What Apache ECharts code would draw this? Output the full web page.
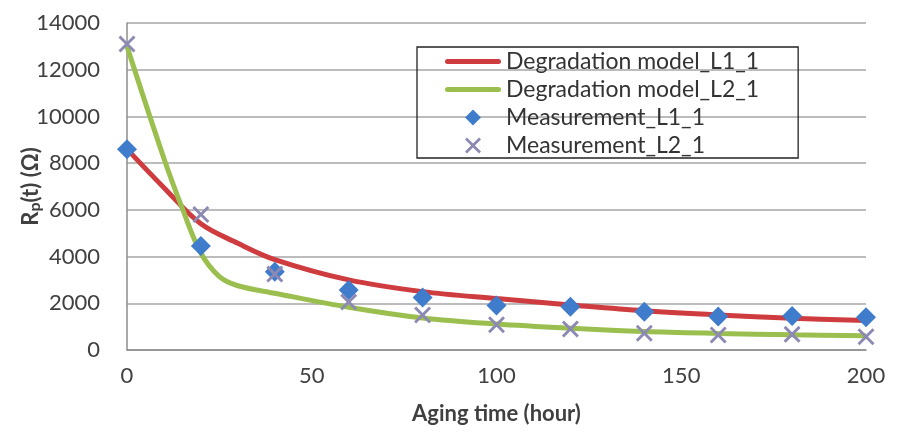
<!DOCTYPE html>
<html>
<head>
<meta charset="utf-8">
<script src="https://cdn.jsdelivr.net/npm/echarts@6/dist/echarts.min.js"></script>
<style>html,body{margin:0;padding:0;background:#fff;}#c{width:901px;height:436px;}</style>
</head>
<body>
<div id="c"></div>
<script>
// Data
const seriesNames = ['Degradation model_L1_1', 'Degradation model_L2_1', 'Measurement_L1_1', 'Measurement_L2_1'];
const modelL1Time = [0, 10, 20, 30, 40, 60, 80, 100, 120, 140, 160, 180, 200];
const modelL1Value = [8600, 6950, 5400, 4570, 3870, 3000, 2500, 2200, 1930, 1680, 1500, 1360, 1260];
const modelL2Time = [0, 10, 15, 20, 25, 30, 40, 60, 80, 100, 120, 140, 160, 180, 200];
const modelL2Value = [13000, 8200, 6050, 4150, 3140, 2750, 2430, 1830, 1370, 1110, 930, 790, 710, 650, 610];
const measTime = [0, 20, 40, 60, 80, 100, 120, 140, 160, 180, 200];
const measL1Value = [8600, 4450, 3350, 2570, 2250, 1900, 1850, 1640, 1430, 1460, 1400];
const measL2Value = [13100, 5800, 3250, 2050, 1500, 1080, 900, 720, 640, 670, 570];
const xTicks = { min: 0, max: 200, interval: 50 };
const yTicks = { min: 0, max: 14000, interval: 2000 };

const pair = (xs, ys) => xs.map((x, i) => [x, ys[i]]);
const FONT = 'Lato';
const crossPath = 'path://M0,1.2 L1.2,0 L5,3.8 L8.8,0 L10,1.2 L6.2,5 L10,8.8 L8.8,10 L5,6.2 L1.2,10 L0,8.8 L3.8,5 Z';
const diamondPath = 'path://M5,0 L10,5 L5,10 L0,5 Z';
const barPath = 'path://M2.5,0 L53.5,0 A2.5,2.5 0 0 1 53.5,5 L2.5,5 A2.5,2.5 0 0 1 2.5,0 Z';

const chart = echarts.init(document.getElementById('c'), null, { renderer: 'canvas' });
chart.setOption({
  animation: false,
  backgroundColor: '#fff',
  textStyle: { fontFamily: FONT },
  grid: { left: 127, right: 35, top: 23, bottom: 86, containLabel: false, outerBoundsMode: 'none' },
  legend: {
    orient: 'vertical',
    left: 417, top: 47,
    padding: [3, 39, 1, 28],
    itemGap: 5,
    itemWidth: 56, itemHeight: 16,
    borderColor: '#222', borderWidth: 1.3,
    textStyle: { fontFamily: FONT, fontSize: 23, color: '#333' },
    data: [
      { name: seriesNames[0], icon: barPath, itemStyle: { color: '#cf3c3f' } },
      { name: seriesNames[1], icon: barPath, itemStyle: { color: '#9bbf4e' } },
      { name: seriesNames[2], icon: diamondPath, itemStyle: { color: '#3f7dcc' } },
      { name: seriesNames[3], icon: crossPath, itemStyle: { color: '#8c89b3' } }
    ]
  },
  xAxis: {
    type: 'value', min: xTicks.min, max: xTicks.max, interval: xTicks.interval,
    name: 'Aging time (hour)', nameLocation: 'middle', nameGap: 53, nameMoveOverlap: false,
    nameTextStyle: { fontFamily: FONT, fontSize: 22, fontWeight: 'bold', color: '#404040' },
    axisLine: { show: true, lineStyle: { color: '#8c8c8c', width: 1.5 } },
    axisTick: { show: false },
    splitLine: { show: false },
    axisLabel: { fontFamily: FONT, fontSize: 22, color: '#404040', margin: 15 }
  },
  yAxis: {
    type: 'value', min: yTicks.min, max: yTicks.max, interval: yTicks.interval,
    name: '{a|R}{b|p}{a|(t) (Ω)}', nameLocation: 'middle', nameGap: 84, nameMoveOverlap: false,
    nameTextStyle: {
      color: '#404040',
      rich: {
        a: { fontFamily: FONT, fontSize: 22, fontWeight: 'bold', color: '#404040' },
        b: { fontFamily: FONT, fontSize: 16, fontWeight: 'bold', color: '#404040', padding: [8, 0, 0, 0] }
      }
    },
    axisLine: { show: true, lineStyle: { color: '#8c8c8c', width: 1.5 } },
    axisTick: { show: false },
    splitLine: { show: true, lineStyle: { color: '#a6a6a6', width: 1.5 } },
    axisLabel: { fontFamily: FONT, fontSize: 22, color: '#404040', margin: 27, formatter: (v) => String(v) }
  },
  series: [
    {
      name: seriesNames[0], type: 'line', data: pair(modelL1Time, modelL1Value),
      smooth: 0.35, symbol: 'none', z: 2,
      lineStyle: { color: '#cf3c3f', width: 5 }, itemStyle: { color: '#cf3c3f' }
    },
    {
      name: seriesNames[1], type: 'line', data: pair(modelL2Time, modelL2Value),
      smooth: 0.35, symbol: 'none', z: 2,
      lineStyle: { color: '#9bbf4e', width: 5 }, itemStyle: { color: '#9bbf4e' }
    },
    {
      name: seriesNames[2], type: 'scatter', data: pair(measTime, measL1Value),
      symbol: 'diamond', symbolSize: 20, z: 3,
      itemStyle: { color: '#3f7dcc', opacity: 1 }
    },
    {
      name: seriesNames[3], type: 'scatter', data: pair(measTime, measL2Value),
      symbol: crossPath, symbolSize: 17, z: 3,
      itemStyle: { color: '#8c89b3', opacity: 1 }
    }
  ]
});
</script>
</body>
</html>
